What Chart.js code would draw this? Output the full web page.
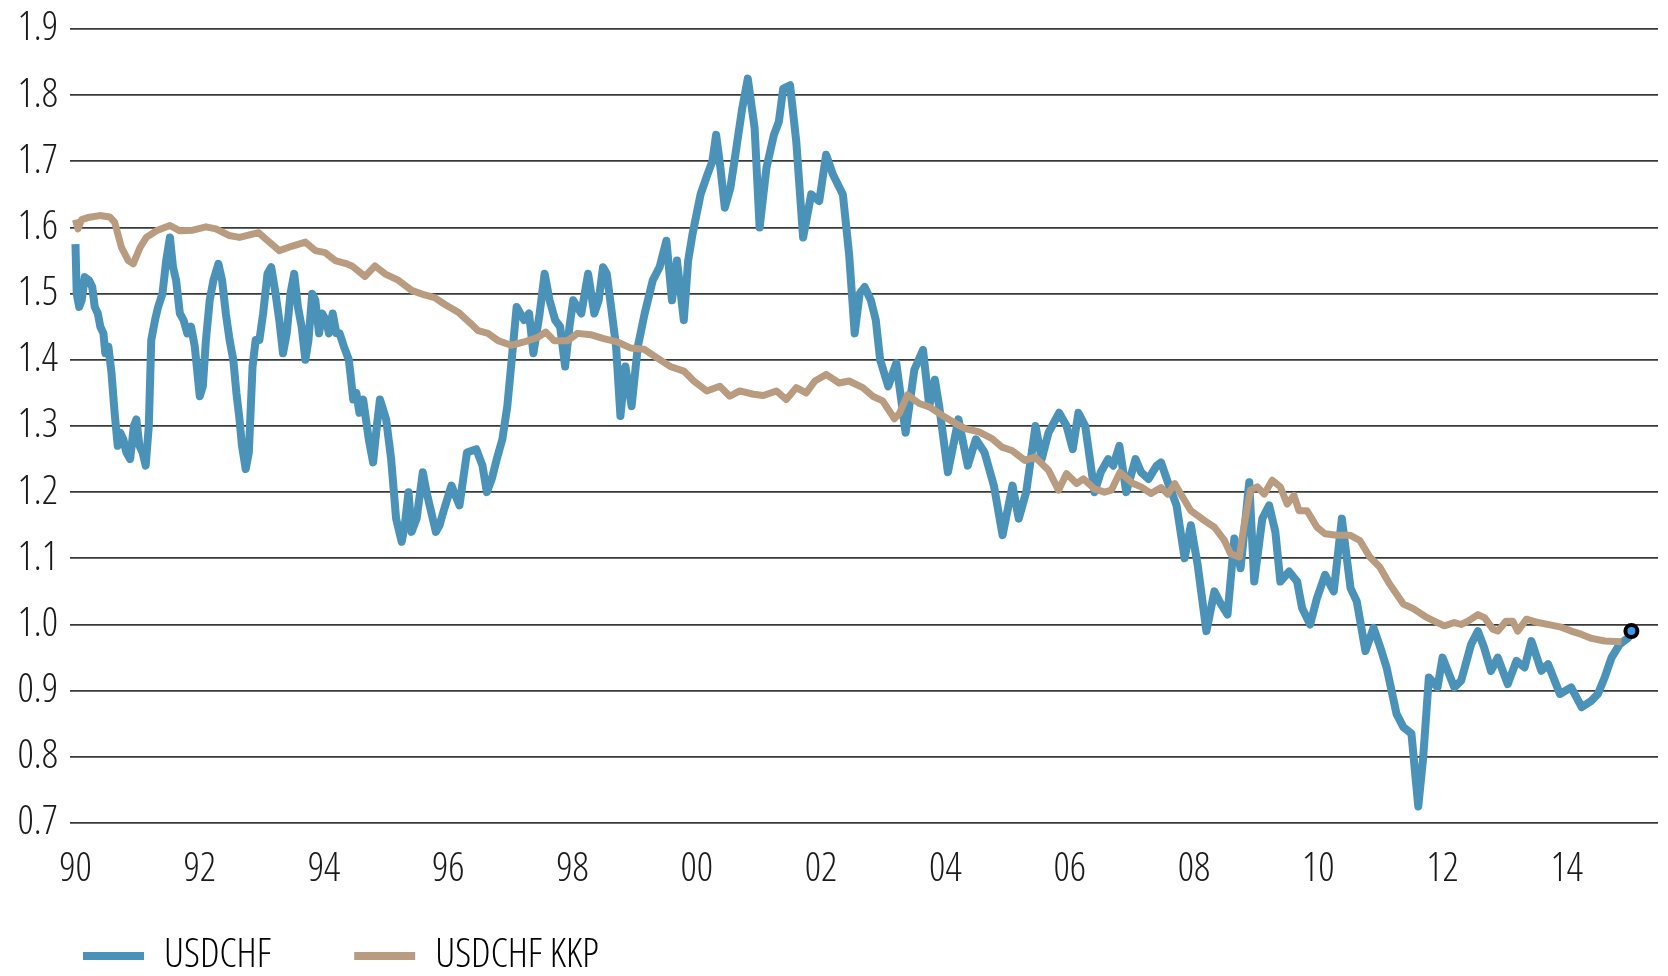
<!DOCTYPE html>
<html>
<head>
<meta charset="utf-8">
<title>USDCHF</title>
<script src="https://cdn.jsdelivr.net/npm/chart.js@4.4.1/dist/chart.umd.min.js"></script>
<style>
	html, body{ margin:0; padding:0; background:#fff; }
	#wrap{ position:relative; width:1668px; height:976px; }
</style>
</head>
<body>
<div id="wrap"><canvas id="grafUsdChf"></canvas></div>
<script>
/*================= DATOS =================*/

const usdYears = [
	1990.00, 1990.02, 1990.06, 1990.10, 1990.15, 1990.22, 1990.27, 1990.31, 1990.36, 1990.40,
	1990.45, 1990.48, 1990.53, 1990.58, 1990.63, 1990.68, 1990.72, 1990.77, 1990.82, 1990.88,
	1990.94, 1990.98, 1991.03, 1991.08, 1991.13, 1991.18, 1991.22, 1991.28, 1991.33, 1991.40,
	1991.46, 1991.52, 1991.57, 1991.62, 1991.68, 1991.74, 1991.80, 1991.86, 1991.92, 1992.00,
	1992.05, 1992.10, 1992.16, 1992.22, 1992.30, 1992.36, 1992.42, 1992.48, 1992.54, 1992.59,
	1992.64, 1992.68, 1992.74, 1992.79, 1992.85, 1992.90, 1992.96, 1993.02, 1993.09, 1993.15,
	1993.22, 1993.28, 1993.34, 1993.40, 1993.46, 1993.52, 1993.58, 1993.64, 1993.70, 1993.75,
	1993.81, 1993.86, 1993.92, 1993.97, 1994.03, 1994.08, 1994.14, 1994.20, 1994.25, 1994.32,
	1994.40, 1994.47, 1994.52, 1994.57, 1994.63, 1994.72, 1994.79, 1994.85, 1994.90, 1995.00,
	1995.08, 1995.16, 1995.25, 1995.30, 1995.36, 1995.41, 1995.49, 1995.59, 1995.65, 1995.70,
	1995.80, 1995.86, 1995.92, 1996.05, 1996.18, 1996.30, 1996.45, 1996.55, 1996.62, 1996.70,
	1996.78, 1996.87, 1996.95, 1997.02, 1997.10, 1997.22, 1997.30, 1997.37, 1997.47, 1997.55,
	1997.63, 1997.72, 1997.80, 1997.88, 1997.95, 1998.01, 1998.14, 1998.25, 1998.35, 1998.42,
	1998.49, 1998.55, 1998.62, 1998.70, 1998.77, 1998.85, 1998.95, 1999.05, 1999.16, 1999.29,
	1999.40, 1999.51, 1999.60, 1999.68, 1999.79, 1999.86, 1999.93, 2000.06, 2000.17, 2000.25,
	2000.31, 2000.38, 2000.45, 2000.54, 2000.62, 2000.73, 2000.82, 2000.93, 2001.01, 2001.12,
	2001.24, 2001.32, 2001.39, 2001.50, 2001.60, 2001.71, 2001.84, 2001.97, 2002.08, 2002.19,
	2002.35, 2002.45, 2002.54, 2002.62, 2002.70, 2002.80, 2002.88, 2002.95, 2003.08, 2003.21,
	2003.36, 2003.50, 2003.64, 2003.74, 2003.83, 2003.90, 2004.04, 2004.21, 2004.36, 2004.49,
	2004.63, 2004.78, 2004.92, 2005.08, 2005.18, 2005.30, 2005.45, 2005.55, 2005.66, 2005.83,
	2005.95, 2006.05, 2006.14, 2006.25, 2006.40, 2006.50, 2006.62, 2006.70, 2006.80, 2006.91,
	2007.06, 2007.15, 2007.27, 2007.40, 2007.47, 2007.58, 2007.72, 2007.85, 2007.95, 2008.06,
	2008.20, 2008.33, 2008.41, 2008.54, 2008.65, 2008.75, 2008.89, 2008.97, 2009.10, 2009.21,
	2009.31, 2009.39, 2009.53, 2009.66, 2009.74, 2009.87, 2009.98, 2010.11, 2010.25, 2010.38,
	2010.52, 2010.62, 2010.76, 2010.89, 2011.00, 2011.10, 2011.26, 2011.37, 2011.50, 2011.61,
	2011.69, 2011.78, 2011.92, 2012.00, 2012.19, 2012.30, 2012.46, 2012.57, 2012.67, 2012.78,
	2012.89, 2013.05, 2013.19, 2013.32, 2013.43, 2013.59, 2013.70, 2013.89, 2014.07, 2014.24,
	2014.40, 2014.50, 2014.61, 2014.72, 2014.85, 2014.99, 2015.04
];
const usdValues = [
	1.575, 1.50, 1.48, 1.49, 1.525, 1.52, 1.51, 1.48, 1.47, 1.45,
	1.44, 1.41, 1.42, 1.38, 1.32, 1.27, 1.29, 1.28, 1.26, 1.25,
	1.30, 1.31, 1.27, 1.26, 1.24, 1.30, 1.43, 1.46, 1.48, 1.50,
	1.55, 1.585, 1.54, 1.52, 1.47, 1.46, 1.44, 1.45, 1.42, 1.345,
	1.36, 1.43, 1.49, 1.52, 1.545, 1.52, 1.47, 1.43, 1.40, 1.35,
	1.31, 1.27, 1.235, 1.26, 1.39, 1.43, 1.43, 1.47, 1.53, 1.54,
	1.50, 1.46, 1.41, 1.44, 1.50, 1.53, 1.48, 1.45, 1.40, 1.43,
	1.50, 1.49, 1.44, 1.47, 1.46, 1.44, 1.47, 1.44, 1.44, 1.42,
	1.40, 1.34, 1.35, 1.32, 1.34, 1.28, 1.245, 1.30, 1.34, 1.31,
	1.25, 1.16, 1.125, 1.15, 1.20, 1.14, 1.16, 1.23, 1.20, 1.18,
	1.14, 1.15, 1.17, 1.21, 1.18, 1.26, 1.265, 1.24, 1.20, 1.22,
	1.25, 1.28, 1.33, 1.40, 1.48, 1.46, 1.47, 1.41, 1.47, 1.53,
	1.49, 1.46, 1.45, 1.39, 1.45, 1.49, 1.47, 1.53, 1.47, 1.49,
	1.54, 1.53, 1.48, 1.42, 1.315, 1.39, 1.33, 1.42, 1.47, 1.52,
	1.54, 1.58, 1.49, 1.55, 1.46, 1.55, 1.59, 1.65, 1.68, 1.70,
	1.74, 1.69, 1.63, 1.66, 1.71, 1.78, 1.825, 1.75, 1.60, 1.69,
	1.74, 1.76, 1.81, 1.815, 1.73, 1.585, 1.65, 1.64, 1.71, 1.68,
	1.65, 1.56, 1.44, 1.50, 1.51, 1.49, 1.46, 1.40, 1.36, 1.395,
	1.29, 1.385, 1.415, 1.33, 1.37, 1.33, 1.23, 1.31, 1.24, 1.28,
	1.26, 1.21, 1.135, 1.21, 1.16, 1.20, 1.30, 1.25, 1.29, 1.32,
	1.30, 1.265, 1.32, 1.30, 1.20, 1.23, 1.25, 1.24, 1.27, 1.20,
	1.25, 1.23, 1.22, 1.24, 1.245, 1.215, 1.18, 1.10, 1.15, 1.09,
	0.99, 1.05, 1.035, 1.015, 1.13, 1.085, 1.215, 1.065, 1.16, 1.18,
	1.14, 1.065, 1.08, 1.065, 1.025, 1.00, 1.04, 1.075, 1.05, 1.16,
	1.055, 1.035, 0.96, 0.995, 0.965, 0.935, 0.865, 0.845, 0.835, 0.725,
	0.80, 0.92, 0.905, 0.95, 0.905, 0.915, 0.97, 0.99, 0.965, 0.93,
	0.95, 0.91, 0.945, 0.935, 0.975, 0.93, 0.94, 0.895, 0.905, 0.875,
	0.885, 0.895, 0.92, 0.95, 0.97, 0.98, 0.99
];

const kkpYears = [
	1990.00, 1990.04, 1990.10, 1990.20, 1990.39, 1990.55, 1990.63, 1990.74, 1990.85, 1990.93,
	1991.04, 1991.14, 1991.30, 1991.52, 1991.68, 1991.89, 1992.10, 1992.26, 1992.47, 1992.64,
	1992.85, 1992.95, 1993.12, 1993.28, 1993.49, 1993.70, 1993.86, 1994.02, 1994.18, 1994.37,
	1994.45, 1994.66, 1994.82, 1994.98, 1995.20, 1995.41, 1995.62, 1995.78, 1995.94, 1996.16,
	1996.37, 1996.48, 1996.64, 1996.80, 1997.01, 1997.22, 1997.44, 1997.57, 1997.70, 1997.92,
	1998.08, 1998.29, 1998.50, 1998.72, 1998.93, 1999.15, 1999.36, 1999.57, 1999.79, 1999.95,
	2000.16, 2000.37, 2000.53, 2000.69, 2000.91, 2001.07, 2001.28, 2001.44, 2001.60, 2001.76,
	2001.90, 2002.08, 2002.29, 2002.45, 2002.67, 2002.83, 2002.99, 2003.18, 2003.26, 2003.39,
	2003.58, 2003.74, 2003.95, 2004.16, 2004.32, 2004.54, 2004.75, 2004.91, 2005.07, 2005.28,
	2005.44, 2005.66, 2005.82, 2005.95, 2006.11, 2006.22, 2006.40, 2006.56, 2006.67, 2006.81,
	2007.02, 2007.15, 2007.31, 2007.47, 2007.58, 2007.69, 2007.79, 2007.95, 2008.17, 2008.33,
	2008.49, 2008.59, 2008.73, 2008.81, 2008.91, 2009.02, 2009.13, 2009.26, 2009.39, 2009.50,
	2009.61, 2009.69, 2009.82, 2009.98, 2010.11, 2010.30, 2010.51, 2010.67, 2010.83, 2010.99,
	2011.15, 2011.37, 2011.53, 2011.74, 2011.85, 2012.03, 2012.19, 2012.30, 2012.41, 2012.57,
	2012.68, 2012.81, 2012.89, 2013.02, 2013.13, 2013.21, 2013.35, 2013.54, 2013.75, 2013.91,
	2014.07, 2014.24, 2014.40, 2014.61, 2014.88
];
const kkpValues = [
	1.612, 1.598, 1.612, 1.615, 1.618, 1.616, 1.608, 1.570, 1.550, 1.545,
	1.570, 1.585, 1.595, 1.603, 1.595, 1.596, 1.601, 1.598, 1.588, 1.585,
	1.590, 1.592, 1.578, 1.565, 1.572, 1.578, 1.565, 1.562, 1.550, 1.545,
	1.542, 1.526, 1.542, 1.530, 1.520, 1.505, 1.498, 1.494, 1.484, 1.472,
	1.454, 1.444, 1.440, 1.429, 1.422, 1.427, 1.434, 1.442, 1.429, 1.429,
	1.440, 1.438, 1.432, 1.427, 1.418, 1.416, 1.403, 1.390, 1.383, 1.368,
	1.353, 1.360, 1.345, 1.353, 1.348, 1.346, 1.353, 1.340, 1.358, 1.350,
	1.368, 1.378, 1.365, 1.368, 1.358, 1.345, 1.338, 1.311, 1.319, 1.347,
	1.334, 1.329, 1.316, 1.304, 1.296, 1.291, 1.281, 1.268, 1.263, 1.248,
	1.253, 1.233, 1.203, 1.228, 1.213, 1.220, 1.205, 1.200, 1.203, 1.230,
	1.213, 1.208, 1.198, 1.207, 1.197, 1.213, 1.197, 1.172, 1.157, 1.147,
	1.127, 1.107, 1.102, 1.152, 1.203, 1.208, 1.197, 1.218, 1.208, 1.182,
	1.195, 1.172, 1.172, 1.147, 1.137, 1.135, 1.135, 1.127, 1.102, 1.087,
	1.061, 1.031, 1.024, 1.011, 1.006, 0.998, 1.003, 1.000, 1.005, 1.015,
	1.010, 0.993, 0.990, 1.005, 1.005, 0.990, 1.008, 1.003, 0.999, 0.996,
	0.990, 0.985, 0.979, 0.975, 0.974
];

const xTickYears = [1990, 1992, 1994, 1996, 1998, 2000, 2002, 2004, 2006, 2008, 2010, 2012, 2014];
const yTickValues = [0.7, 0.8, 0.9, 1.0, 1.1, 1.2, 1.3, 1.4, 1.5, 1.6, 1.7, 1.8, 1.9];

/*================= ESTILO =================*/

const azul = '#4b92b8';
const cafe = '#b99b7f';

// letra angosta: Open Sans condensada si la fuente lo permite, si no DejaVu Sans Condensed
function medir(f){
	const c = document.createElement('canvas').getContext('2d');
	c.font = f;
	return c.measureText('USDCHF').width;
}
const anchoNormal = medir("300 40px 'Open Sans', monospace");
const anchoAngosto = medir("300 condensed 40px 'Open Sans', monospace");
const hayCondensada = anchoAngosto < anchoNormal * 0.9;

const letra = hayCondensada
	? { family: "'Open Sans'", weight: '300 condensed', size: 40 }
	: { family: "'DejaVu Sans Condensed', sans-serif", size: 35 };

const sepLeyenda = 83;

const toPoints = (xs, ys) => xs.map((x, i) => ({x: x, y: ys[i]}));
const lastUsd = usdValues.length - 1;

// la leyenda queda un poco mas arriba de donde la deja Chart.js
const moverLeyenda = {
	id: 'moverLeyenda',
	afterLayout(chart){
		const ley = chart.legend;
		const dy = 956 - (sepLeyenda + letra.size / 2) - ley.top;
		ley.top += dy;
		ley.bottom += dy;
	}
};

/*================= GRAFICA =================*/

const grafUsd = document.getElementById('grafUsdChf');
new Chart(grafUsd, {
	type: 'line',
	data: {
		datasets: [{
			label: 'USDCHF',
			data: toPoints(usdYears, usdValues),
			borderColor: azul,
			backgroundColor: azul,
			borderWidth: 8,
			borderJoinStyle: 'round',
			tension: 0,
			pointRadius: ctx => ctx.dataIndex === lastUsd ? 6 : 0,
			pointBorderWidth: 4,
			pointBorderColor: '#000',
			pointBackgroundColor: '#3a9cf0',
			pointHoverRadius: 0,
			order: 1
		}, {
			label: 'USDCHF KKP',
			data: toPoints(kkpYears, kkpValues),
			borderColor: cafe,
			backgroundColor: cafe,
			borderWidth: 7,
			borderJoinStyle: 'round',
			tension: 0,
			pointRadius: 0,
			pointHoverRadius: 0,
			order: 0
		}]
	},
	plugins: [moverLeyenda],
	options: {
		responsive: true,
		maintainAspectRatio: false,
		animation: false,
		events: [],
		// alto de la leyenda = letra + sepLeyenda + 10, el area del grafico termina en y = 823
		layout: { padding: { top: 29, left: 0, right: 2, bottom: 976 - 823 - 58 - (letra.size + sepLeyenda + 10) } },
		plugins: {
			tooltip: { enabled: false },
			legend: {
				position: 'bottom',
				align: 'start',
				labels: {
					boxWidth: 61,
					boxHeight: 8,
					padding: sepLeyenda,
					color: '#1a1a1a',
					font: letra,
					generateLabels: chart => chart.data.datasets.map((d, i) => ({
						text: d.label,
						fillStyle: d.borderColor,
						strokeStyle: d.borderColor,
						lineWidth: 0,
						hidden: false,
						datasetIndex: i
					}))
				}
			}
		},
		scales: {
			x: {
				type: 'linear',
				min: 1989.912,
				max: 2015.468,
				afterBuildTicks: scale => { scale.ticks = xTickYears.map(v => ({value: v})); },
				afterFit: scale => { scale.height = 58; },
				grid: { display: false },
				border: { display: false },
				ticks: {
					autoSkip: false,
					maxRotation: 0,
					padding: 15,
					color: '#1a1a1a',
					font: letra,
					callback: v => String(v % 100).padStart(2, '0')
				}
			},
			y: {
				min: 0.7,
				max: 1.9,
				afterBuildTicks: scale => { scale.ticks = yTickValues.map(v => ({value: v})); },
				afterFit: scale => { scale.width = 70; },
				grid: { color: '#3a3a3a', lineWidth: 1.8, drawTicks: false },
				border: { display: false },
				ticks: {
					padding: 12,
					color: '#1a1a1a',
					font: Object.assign({}, letra, { lineHeight: 0.8 }),
					callback: v => v.toFixed(1)
				}
			}
		}
	}
});
</script>
</body>
</html>
